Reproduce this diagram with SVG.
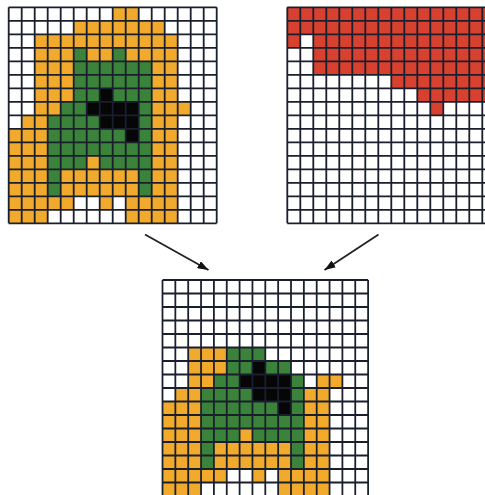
<svg xmlns="http://www.w3.org/2000/svg" xmlns:xlink="http://www.w3.org/1999/xlink" width="485" height="495" viewBox="0 0 485 495">
  <style>
    .o { fill: #F1AA2C; }
    .g { fill: #3B823B; }
    .k { fill: #060606; }
    .r { fill: #D8412F; }
    .bg { fill: #ffffff; }
    .lines { fill: none; stroke: #1a1f2e; stroke-width: 1.8; vector-effect: non-scaling-stroke; }
    .arrow { fill: none; stroke: #222222; stroke-width: 1.8; marker-end: url(#head); }
  </style>
  <defs>
    <!-- 16 x 16 cell grid, 13 wide by 13.5 high per cell -->
    <path id="grid" d="M0 0V216M13 0V216M26 0V216M39 0V216M52 0V216M65 0V216M78 0V216M91 0V216M104 0V216M117 0V216M130 0V216M143 0V216M156 0V216M169 0V216M182 0V216M195 0V216M208 0V216M0 0H208M0 13.5H208M0 27H208M0 40.5H208M0 54H208M0 67.5H208M0 81H208M0 94.5H208M0 108H208M0 121.5H208M0 135H208M0 148.5H208M0 162H208M0 175.5H208M0 189H208M0 202.5H208M0 216H208"/>
    <!-- lower part of the burn map (rows 8-15), shared by both maps -->
    <g id="lowerRows">
      <rect class="o" x="13" y="108" width="26" height="13.5"/>
      <rect class="g" x="39" y="108" width="52" height="13.5"/>
      <rect class="k" x="91" y="108" width="39" height="13.5"/>
      <rect class="g" x="130" y="108" width="13" height="13.5"/>
      <rect class="o" x="143" y="108" width="26" height="13.5"/>

      <rect class="o" x="0" y="121.5" width="39" height="13.5"/>
      <rect class="g" x="39" y="121.5" width="78" height="13.5"/>
      <rect class="k" x="117" y="121.5" width="13" height="13.5"/>
      <rect class="g" x="130" y="121.5" width="13" height="13.5"/>
      <rect class="o" x="143" y="121.5" width="26" height="13.5"/>

      <rect class="o" x="0" y="135" width="39" height="13.5"/>
      <rect class="g" x="39" y="135" width="104" height="13.5"/>
      <rect class="o" x="143" y="135" width="26" height="13.5"/>

      <rect class="o" x="0" y="148.5" width="39" height="13.5"/>
      <rect class="g" x="39" y="148.5" width="39" height="13.5"/>
      <rect class="o" x="78" y="148.5" width="13" height="13.5"/>
      <rect class="g" x="91" y="148.5" width="52" height="13.5"/>
      <rect class="o" x="143" y="148.5" width="26" height="13.5"/>

      <rect class="o" x="0" y="162" width="39" height="27"/>
      <rect class="g" x="39" y="162" width="13" height="27"/>
      <rect class="o" x="52" y="162" width="78" height="27"/>
      <rect class="g" x="130" y="162" width="13" height="27"/>
      <rect class="o" x="143" y="162" width="26" height="27"/>

      <rect class="o" x="0" y="189" width="65" height="13.5"/>
      <rect class="o" x="91" y="189" width="13" height="13.5"/>
      <rect class="o" x="117" y="189" width="52" height="13.5"/>

      <rect class="o" x="0" y="202.5" width="39" height="13.5"/>
      <rect class="o" x="117" y="202.5" width="52" height="13.5"/>
    </g>
    <marker id="head" markerUnits="userSpaceOnUse" markerWidth="11" markerHeight="8" refX="11" refY="4" orient="auto">
      <path d="M0 0L11 4L0 8Z" fill="#111111"/>
    </marker>
  </defs>

  <rect class="bg" x="0" y="0" width="485" height="495"/>

  <!-- burn severity map -->
  <g id="severity-map" transform="translate(8.7,7.3)">
    <rect class="o" x="104" y="0" width="26" height="13.5"/>
    <rect class="o" x="65" y="13.5" width="91" height="13.5"/>
    <rect class="o" x="26" y="27" width="143" height="13.5"/>

    <rect class="o" x="26" y="40.5" width="39" height="13.5"/>
    <rect class="g" x="65" y="40.5" width="13" height="13.5"/>
    <rect class="o" x="78" y="40.5" width="26" height="13.5"/>
    <rect class="g" x="104" y="40.5" width="13" height="13.5"/>
    <rect class="o" x="117" y="40.5" width="52" height="13.5"/>

    <rect class="o" x="26" y="54" width="39" height="27"/>
    <rect class="g" x="65" y="54" width="78" height="27"/>
    <rect class="o" x="143" y="54" width="26" height="27"/>

    <rect class="o" x="26" y="81" width="39" height="13.5"/>
    <rect class="g" x="65" y="81" width="26" height="13.5"/>
    <rect class="k" x="91" y="81" width="13" height="13.5"/>
    <rect class="g" x="104" y="81" width="39" height="13.5"/>
    <rect class="o" x="143" y="81" width="26" height="13.5"/>

    <rect class="o" x="26" y="94.5" width="26" height="13.5"/>
    <rect class="g" x="52" y="94.5" width="26" height="13.5"/>
    <rect class="k" x="78" y="94.5" width="52" height="13.5"/>
    <rect class="g" x="130" y="94.5" width="13" height="13.5"/>
    <rect class="o" x="143" y="94.5" width="39" height="13.5"/>

    <use href="#lowerRows"/>
    <use class="lines" href="#grid"/>
  </g>

  <!-- mask map -->
  <g id="mask-map" transform="translate(287.3,7.3)">
    <rect class="r" x="0" y="0" width="208" height="27"/>
    <rect class="r" x="0" y="27" width="13" height="13.5"/>
    <rect class="r" x="26" y="27" width="182" height="40.5"/>
    <rect class="r" x="104" y="67.5" width="104" height="13.5"/>
    <rect class="r" x="130" y="81" width="78" height="13.5"/>
    <rect class="r" x="143" y="94.5" width="13" height="13.5"/>
    <use class="lines" href="#grid"/>
  </g>

  <!-- masked result map -->
  <g id="result-map" transform="translate(162.5,280) scale(0.9885,1)">
    <rect class="o" x="26" y="67.5" width="39" height="13.5"/>
    <rect class="g" x="65" y="67.5" width="39" height="13.5"/>

    <rect class="o" x="26" y="81" width="39" height="13.5"/>
    <rect class="g" x="65" y="81" width="26" height="13.5"/>
    <rect class="k" x="91" y="81" width="13" height="13.5"/>
    <rect class="g" x="104" y="81" width="26" height="13.5"/>

    <rect class="o" x="26" y="94.5" width="26" height="13.5"/>
    <rect class="g" x="52" y="94.5" width="26" height="13.5"/>
    <rect class="k" x="78" y="94.5" width="52" height="13.5"/>
    <rect class="g" x="130" y="94.5" width="13" height="13.5"/>
    <rect class="o" x="156" y="94.5" width="26" height="13.5"/>

    <use href="#lowerRows"/>
    <use class="lines" href="#grid"/>
  </g>

  <!-- connectors -->
  <g id="connectors">
    <line class="arrow" x1="145" y1="234.5" x2="208.5" y2="270"/>
    <line class="arrow" x1="378.5" y1="234.5" x2="324.5" y2="270"/>
  </g>
</svg>
